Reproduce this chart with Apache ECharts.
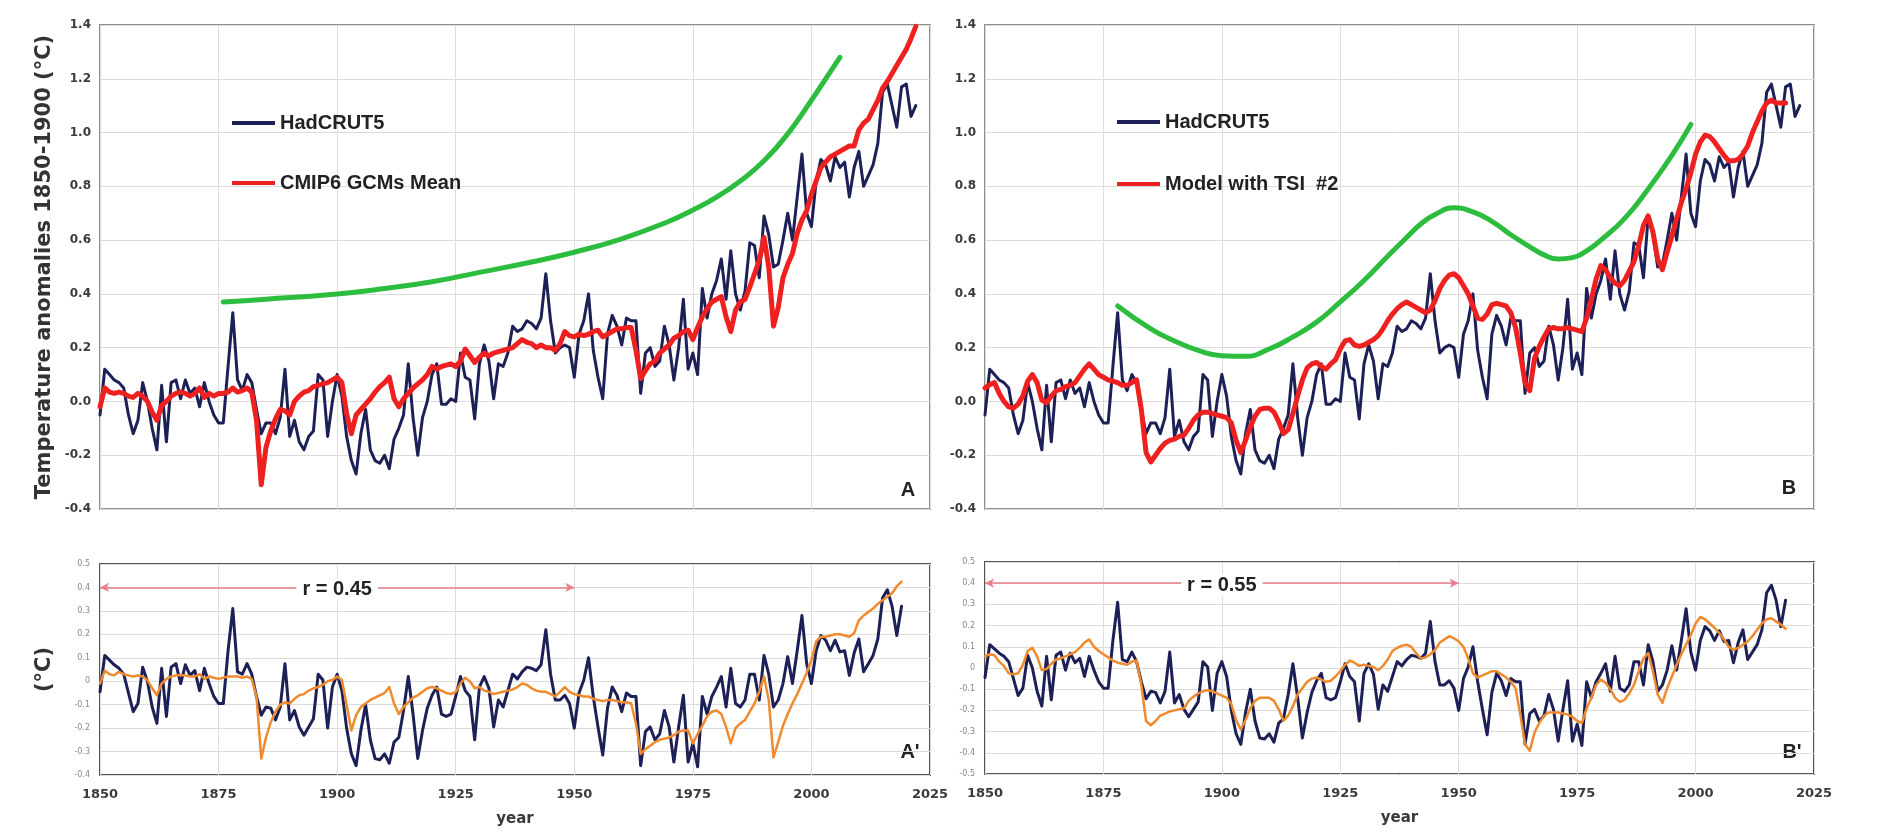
<!DOCTYPE html>
<html>
<head>
<meta charset="utf-8">
<script src="https://cdn.jsdelivr.net/npm/echarts@6/dist/echarts.min.js"></script>
<style>
  html, body { margin: 0; padding: 0; background: #fff; }
  #chart { width: 1900px; height: 840px; }
</style>
</head>
<body>
<div id="chart"></div>
<script>
// all annual series start in 1850
var startYear = 1850;

// HadCRUT5, anomalies vs 1850-1900 (1850-2022)
var hadcrut5 = [
  -0.05, 0.12, 0.10, 0.08, 0.07, 0.05, -0.05, -0.12, -0.07, 0.07,
  0.00, -0.10, -0.18, 0.06, -0.15, 0.07, 0.08, 0.01, 0.08, 0.03,
  0.05, -0.02, 0.07, 0.00, -0.05, -0.08, -0.08, 0.13, 0.33, 0.08,
  0.04, 0.10, 0.07, -0.03, -0.12, -0.08, -0.08, -0.12, -0.06, 0.12,
  -0.13, -0.07, -0.15, -0.18, -0.13, -0.11, 0.10, 0.08, -0.13, 0.00,
  0.10, 0.02, -0.13, -0.22, -0.27, -0.12, -0.03, -0.18, -0.22, -0.23,
  -0.20, -0.25, -0.14, -0.10, -0.05, 0.14, -0.06, -0.20, -0.06, 0.00,
  0.10, 0.14, -0.01, -0.01, 0.01, 0.00, 0.18, 0.09, 0.08, -0.065,
  0.14, 0.21, 0.15, 0.01, 0.14, 0.13, 0.18, 0.28, 0.26, 0.27,
  0.30, 0.29, 0.27, 0.31, 0.475, 0.30, 0.18, 0.20, 0.21, 0.20,
  0.09, 0.25, 0.30, 0.40, 0.19, 0.09, 0.01, 0.25, 0.32, 0.28,
  0.21, 0.31, 0.30, 0.30, 0.03, 0.18, 0.20, 0.13, 0.15, 0.28,
  0.21, 0.08, 0.20, 0.38, 0.12, 0.18, 0.10, 0.42, 0.31, 0.40,
  0.45, 0.53, 0.38, 0.56, 0.40, 0.34, 0.41, 0.59, 0.58, 0.46,
  0.69, 0.62, 0.50, 0.51, 0.60, 0.70, 0.60, 0.76, 0.92, 0.70,
  0.65, 0.82, 0.90, 0.88, 0.82, 0.91, 0.87, 0.89, 0.76, 0.87,
  0.93, 0.80, 0.84, 0.88, 0.96, 1.15, 1.18, 1.10, 1.02, 1.17,
  1.18, 1.06, 1.10
];

// CMIP6 GCMs mean (1850-2022)
var cmip6Mean = [
  -0.02, 0.05, 0.035, 0.03, 0.035, 0.03, 0.02, 0.015, 0.03, 0.02,
  0.00, -0.04, -0.07, -0.015, 0.00, 0.02, 0.03, 0.035, 0.03, 0.02,
  0.03, 0.05, 0.015, 0.03, 0.02, 0.03, 0.03, 0.035, 0.05, 0.035,
  0.04, 0.05, 0.035, -0.07, -0.31, -0.17, -0.11, -0.065, -0.03, -0.035,
  -0.05, 0.00, 0.02, 0.035, 0.04, 0.055, 0.06, 0.065, 0.07, 0.08,
  0.09, 0.07, -0.045, -0.12, -0.05, -0.03, -0.01, 0.01, 0.035, 0.055,
  0.07, 0.09, 0.01, -0.02, 0.01, 0.03, 0.05, 0.065, 0.08, 0.10,
  0.13, 0.12, 0.13, 0.135, 0.14, 0.13, 0.15, 0.195, 0.17, 0.145,
  0.165, 0.18, 0.17, 0.18, 0.185, 0.19, 0.195, 0.20, 0.215, 0.23,
  0.22, 0.215, 0.20, 0.21, 0.20, 0.20, 0.19, 0.215, 0.26, 0.245,
  0.24, 0.25, 0.245, 0.25, 0.26, 0.265, 0.24, 0.25, 0.26, 0.27,
  0.27, 0.275, 0.275, 0.19, 0.085, 0.115, 0.14, 0.15, 0.18, 0.195,
  0.21, 0.235, 0.245, 0.26, 0.265, 0.23, 0.275, 0.315, 0.345, 0.37,
  0.38, 0.39, 0.315, 0.26, 0.34, 0.37, 0.38, 0.425, 0.475, 0.525,
  0.61, 0.50, 0.28, 0.35, 0.46, 0.51, 0.55, 0.625, 0.675, 0.71,
  0.77, 0.82, 0.87, 0.89, 0.91, 0.92, 0.93, 0.94, 0.95, 0.95,
  1.01, 1.035, 1.05, 1.085, 1.12, 1.165, 1.19, 1.22, 1.25, 1.28,
  1.31, 1.35, 1.395
];

// Model with TSI #2 (1850-2019)
var modelTsi2 = [
  0.05, 0.0625, 0.07, 0.03, 0.00, -0.02, -0.025, -0.01, 0.02, 0.075,
  0.10, 0.07, 0.005, -0.005, 0.02, 0.04, 0.045, 0.055, 0.06, 0.07,
  0.095, 0.12, 0.14, 0.12, 0.10, 0.09, 0.08, 0.075, 0.07, 0.06,
  0.06, 0.07, 0.08, -0.03, -0.19, -0.225, -0.20, -0.175, -0.155, -0.145,
  -0.14, -0.13, -0.125, -0.10, -0.07, -0.05, -0.04, -0.04, -0.045, -0.05,
  -0.055, -0.06, -0.08, -0.145, -0.19, -0.145, -0.095, -0.055, -0.03, -0.025,
  -0.025, -0.04, -0.075, -0.12, -0.105, -0.045, 0.02, 0.08, 0.125, 0.14,
  0.145, 0.13, 0.12, 0.14, 0.155, 0.195, 0.225, 0.23, 0.21, 0.205,
  0.21, 0.22, 0.23, 0.245, 0.27, 0.30, 0.325, 0.345, 0.36, 0.37,
  0.36, 0.35, 0.34, 0.33, 0.34, 0.375, 0.42, 0.45, 0.47, 0.475,
  0.46, 0.43, 0.40, 0.355, 0.31, 0.305, 0.325, 0.36, 0.365, 0.36,
  0.355, 0.33, 0.275, 0.18, 0.07, 0.04, 0.16, 0.205, 0.24, 0.27,
  0.275, 0.27, 0.27, 0.275, 0.27, 0.265, 0.26, 0.31, 0.38, 0.455,
  0.505, 0.49, 0.46, 0.44, 0.43, 0.45, 0.485, 0.52, 0.58, 0.655,
  0.69, 0.63, 0.53, 0.49, 0.555, 0.615, 0.68, 0.74, 0.79, 0.85,
  0.92, 0.965, 0.99, 0.985, 0.965, 0.94, 0.915, 0.895, 0.895, 0.90,
  0.92, 0.95, 1.00, 1.04, 1.08, 1.11, 1.12, 1.11, 1.11, 1.11
];

// green curves, [year, value]
var trendA = [
  [1876, 0.37], [1885, 0.38], [1900, 0.40], [1910, 0.42], [1920, 0.445],
  [1930, 0.48], [1940, 0.515], [1950, 0.555], [1960, 0.605], [1970, 0.67],
  [1975, 0.712], [1980, 0.76], [1985, 0.82], [1990, 0.895], [1995, 0.995],
  [2000, 1.12], [2003, 1.20], [2006, 1.28]
];
var trendB = [
  [1878, 0.355], [1885, 0.27], [1890, 0.225], [1895, 0.19], [1900, 0.17],
  [1905, 0.168], [1910, 0.195], [1915, 0.24], [1920, 0.295], [1925, 0.37],
  [1930, 0.45], [1935, 0.54], [1939, 0.61], [1942, 0.66], [1945, 0.695],
  [1949, 0.72], [1953, 0.705], [1957, 0.67], [1961, 0.62], [1965, 0.575],
  [1968, 0.545], [1971, 0.53], [1974, 0.535], [1977, 0.56], [1980, 0.60],
  [1985, 0.68], [1990, 0.79], [1995, 0.915], [1999, 1.03]
];

// lower panels (1850-2019)
var hadcrut5Resid = [
  -0.045, 0.11, 0.09, 0.07, 0.055, 0.03, -0.05, -0.13, -0.095, 0.06,
  0.00, -0.11, -0.18, 0.055, -0.15, 0.06, 0.075, -0.01, 0.07, 0.025,
  0.045, -0.04, 0.055, -0.01, -0.065, -0.095, -0.095, 0.13, 0.31, 0.04,
  0.03, 0.075, 0.03, -0.065, -0.145, -0.11, -0.115, -0.165, -0.11, 0.075,
  -0.165, -0.125, -0.195, -0.23, -0.195, -0.16, 0.03, 0.005, -0.20, -0.025,
  0.03, -0.04, -0.20, -0.31, -0.36, -0.21, -0.10, -0.25, -0.33, -0.335,
  -0.31, -0.35, -0.26, -0.24, -0.125, 0.02, -0.14, -0.33, -0.21, -0.115,
  -0.06, -0.025, -0.14, -0.15, -0.14, -0.065, 0.02, -0.04, -0.065, -0.25,
  -0.025, 0.02, -0.03, -0.195, -0.08, -0.11, -0.04, 0.03, 0.01, 0.04,
  0.06, 0.055, 0.045, 0.07, 0.22, 0.03, -0.08, -0.08, -0.06, -0.095,
  -0.20, -0.05, 0.005, 0.10, -0.065, -0.195, -0.315, -0.115, -0.025, -0.06,
  -0.13, -0.05, -0.065, -0.065, -0.36, -0.215, -0.195, -0.25, -0.225, -0.125,
  -0.195, -0.345, -0.195, -0.06, -0.345, -0.265, -0.365, -0.065, -0.14, -0.065,
  -0.025, 0.02, -0.11, 0.055, -0.095, -0.11, -0.08, 0.03, 0.03, -0.08,
  0.11, 0.03, -0.11, -0.08, -0.01, 0.105, -0.01, 0.13, 0.28, 0.075,
  -0.01, 0.13, 0.195, 0.175, 0.13, 0.175, 0.125, 0.13, 0.025, 0.12,
  0.18, 0.04, 0.075, 0.11, 0.18, 0.355, 0.39, 0.32, 0.195, 0.32
];
var cmip6Resid = [
  -0.01, 0.045, 0.03, 0.025, 0.04, 0.03, 0.025, 0.02, 0.025, 0.02,
  0.005, -0.03, -0.06, -0.01, 0.01, 0.02, 0.025, 0.025, 0.025, 0.02,
  0.02, 0.03, 0.01, 0.02, 0.015, 0.01, 0.015, 0.02, 0.02, 0.02,
  0.015, 0.02, 0.01, -0.065, -0.33, -0.24, -0.175, -0.13, -0.10, -0.09,
  -0.095, -0.075, -0.06, -0.055, -0.04, -0.03, -0.025, -0.015, 0.00, 0.005,
  0.02, 0.005, -0.10, -0.21, -0.145, -0.11, -0.095, -0.08, -0.07, -0.06,
  -0.05, -0.025, -0.095, -0.14, -0.11, -0.09, -0.07, -0.06, -0.045, -0.03,
  -0.025, -0.03, -0.04, -0.05, -0.055, -0.045, -0.01, 0.015, 0.00, -0.03,
  -0.025, -0.04, -0.045, -0.055, -0.05, -0.045, -0.04, -0.035, -0.025, -0.01,
  -0.015, -0.03, -0.04, -0.045, -0.045, -0.055, -0.065, -0.045, -0.025, -0.045,
  -0.055, -0.06, -0.065, -0.065, -0.075, -0.08, -0.085, -0.08, -0.08, -0.085,
  -0.09, -0.09, -0.095, -0.18, -0.31, -0.29, -0.275, -0.26, -0.25, -0.245,
  -0.24, -0.23, -0.215, -0.21, -0.21, -0.265, -0.225, -0.19, -0.15, -0.13,
  -0.125, -0.14, -0.195, -0.265, -0.20, -0.18, -0.165, -0.13, -0.095, -0.045,
  0.02, -0.08, -0.325, -0.26, -0.19, -0.14, -0.095, -0.055, -0.01, 0.035,
  0.09, 0.17, 0.19, 0.19, 0.195, 0.20, 0.20, 0.195, 0.19, 0.205,
  0.26, 0.28, 0.295, 0.31, 0.33, 0.345, 0.36, 0.375, 0.405, 0.425
];
var modelResid = [
  0.055, 0.065, 0.06, 0.03, 0.01, -0.025, -0.03, -0.025, 0.015, 0.08,
  0.095, 0.055, -0.01, -0.005, 0.02, 0.04, 0.045, 0.055, 0.065, 0.075,
  0.095, 0.12, 0.135, 0.10, 0.08, 0.065, 0.05, 0.035, 0.025, 0.02,
  0.015, 0.03, 0.035, -0.08, -0.25, -0.27, -0.25, -0.225, -0.215, -0.205,
  -0.20, -0.195, -0.19, -0.155, -0.135, -0.12, -0.11, -0.105, -0.11, -0.12,
  -0.13, -0.14, -0.17, -0.245, -0.29, -0.245, -0.19, -0.155, -0.14, -0.14,
  -0.14, -0.155, -0.195, -0.25, -0.225, -0.18, -0.125, -0.095, -0.065, -0.05,
  -0.045, -0.055, -0.065, -0.06, -0.04, -0.015, 0.015, 0.035, 0.025, 0.01,
  0.015, 0.01, 0.005, -0.01, 0.01, 0.04, 0.08, 0.095, 0.105, 0.11,
  0.10, 0.07, 0.045, 0.05, 0.065, 0.085, 0.12, 0.135, 0.15, 0.14,
  0.125, 0.10, 0.045, -0.025, -0.045, -0.035, -0.025, -0.015, -0.015, -0.03,
  -0.045, -0.065, -0.095, -0.22, -0.36, -0.39, -0.305, -0.26, -0.225, -0.21,
  -0.21, -0.21, -0.215, -0.22, -0.23, -0.25, -0.26, -0.19, -0.14, -0.08,
  -0.055, -0.07, -0.10, -0.14, -0.16, -0.15, -0.12, -0.08, -0.015, 0.045,
  0.07, -0.015, -0.125, -0.165, -0.095, -0.04, 0.015, 0.065, 0.11, 0.155,
  0.21, 0.24, 0.23, 0.21, 0.19, 0.165, 0.135, 0.10, 0.085, 0.095,
  0.11, 0.125, 0.15, 0.18, 0.21, 0.23, 0.235, 0.22, 0.205, 0.185
];

// correlation annotations: [from year, to year, level, text]
var corrA = [1850, 1950, 0.4, 'r = 0.45'];
var corrB = [1850, 1950, 0.4, 'r = 0.55'];

var NAVY = '#1c2057';
var RED = '#ee2020';
var GREEN = '#2dbd3e';
var ORANGE = '#f08a2e';
var VERDANA = '"DejaVu Sans", Verdana, sans-serif';
var ARIAL = '"Liberation Sans", Arial, sans-serif';

function toPairs(values) {
  return values.map(function (v, i) { return [startYear + i, v]; });
}

function xAxisFor(grid, bottom) {
  return {
    gridIndex: grid, type: 'value', min: 1850, max: 2025, interval: 25,
    axisLine: { show: false }, axisTick: { show: false },
    axisLabel: bottom
      ? { show: true, margin: 13, fontFamily: VERDANA, fontWeight: 'bold', fontSize: 13, color: '#3a3a3a',
          formatter: function (v) { return String(v); } }
      : { show: false },
    splitLine: { show: true, lineStyle: { color: '#dcdcdc', width: 1 } },
    name: bottom ? 'year' : '', nameLocation: 'middle', nameGap: 37,
    nameTextStyle: { fontFamily: VERDANA, fontWeight: 'bold', fontSize: 15, color: '#3a3a3a' }
  };
}

function topYAxis(grid, name) {
  return {
    gridIndex: grid, type: 'value', min: -0.4, max: 1.4, interval: 0.2,
    axisLine: { show: false }, axisTick: { show: false },
    axisLabel: {
      margin: 9, fontFamily: VERDANA, fontWeight: 'bold', fontSize: 12, color: '#3a3a3a',
      formatter: function (v) { return v.toFixed(1); }
    },
    splitLine: { show: true, lineStyle: { color: '#dcdcdc', width: 1 } },
    name: name || '', nameLocation: 'middle', nameGap: 45, nameRotate: 90,
    nameTextStyle: { fontFamily: VERDANA, fontWeight: 'bold', fontSize: 21, color: '#333' }
  };
}

function lowYAxis(grid, min, name) {
  return {
    gridIndex: grid, type: 'value', min: min, max: 0.5, interval: 0.1,
    axisLine: { show: false }, axisTick: { show: false },
    axisLabel: {
      margin: 10, fontFamily: VERDANA, fontSize: 8, color: '#888',
      formatter: function (v) { return Math.abs(v) < 1e-9 ? '0' : v.toFixed(1); }
    },
    splitLine: { show: true, lineStyle: { color: '#dcdcdc', width: 1 } },
    name: name || '', nameLocation: 'middle', nameGap: 45, nameRotate: 90,
    nameTextStyle: { fontFamily: VERDANA, fontWeight: 'bold', fontSize: 21, color: '#333' }
  };
}

function line(name, grid, data, color, width, extra) {
  var s = {
    name: name, type: 'line', xAxisIndex: grid, yAxisIndex: grid,
    data: data, color: color, showSymbol: false, symbol: 'none',
    lineStyle: { color: color, width: width, cap: 'round', join: 'round' },
    silent: true
  };
  if (extra) Object.keys(extra).forEach(function (k) { s[k] = extra[k]; });
  return s;
}

function corrLine(c) {
  return {
    silent: true, symbol: ['arrow', 'arrow'], symbolSize: [7, 9],
    lineStyle: { color: '#e8808c', width: 1.5, type: 'solid' },
    label: {
      show: true, position: 'middle', formatter: c[3], offset: [0, 18],
      fontFamily: ARIAL, fontWeight: 'bold', fontSize: 20, color: '#222',
      backgroundColor: '#fff', padding: [1, 6]
    },
    data: [[{ coord: [c[0], c[2]] }, { coord: [c[1], c[2]] }]]
  };
}

var legendText = { fontFamily: ARIAL, fontWeight: 'bold', fontSize: 20, color: '#222' };

var option = {
  animation: false,
  backgroundColor: '#fff',
  grid: [
    { left: 100, top: 25, width: 830, height: 484, show: true, borderColor: '#8f8f8f', borderWidth: 2, backgroundColor: '#fff' },
    { left: 985, top: 25, width: 829, height: 484, show: true, borderColor: '#8f8f8f', borderWidth: 2, backgroundColor: '#fff' },
    { left: 100, top: 564, width: 830, height: 211, show: true, borderColor: '#555', borderWidth: 2, backgroundColor: '#fff' },
    { left: 985, top: 562, width: 829, height: 212, show: true, borderColor: '#555', borderWidth: 2, backgroundColor: '#fff' }
  ],
  xAxis: [xAxisFor(0, false), xAxisFor(1, false), xAxisFor(2, true), xAxisFor(3, true)],
  yAxis: [
    topYAxis(0, 'Temperature anomalies 1850-1900 (°C)'),
    topYAxis(1, ''),
    lowYAxis(2, -0.4, '(°C)'),
    lowYAxis(3, -0.5, '')
  ],
  legend: [
    { data: ['HadCRUT5', 'CMIP6 GCMs Mean'], left: 227, top: 108, orient: 'vertical',
      icon: 'rect', itemWidth: 43, itemHeight: 4, itemGap: 40, selectedMode: false, textStyle: legendText },
    { data: ['HadCRUT5', 'Model with TSI  #2'], left: 1112, top: 107, orient: 'vertical',
      icon: 'rect', itemWidth: 43, itemHeight: 4, itemGap: 42, selectedMode: false, textStyle: legendText }
  ],
  series: [
    line('HadCRUT5', 0, toPairs(hadcrut5), NAVY, 3),
    line('CMIP6 GCMs Mean', 0, toPairs(cmip6Mean), RED, 5),
    line('trend A', 0, trendA, GREEN, 5, { smooth: true }),
    line('HadCRUT5', 1, toPairs(hadcrut5), NAVY, 3),
    line('Model with TSI  #2', 1, toPairs(modelTsi2), RED, 5),
    line('trend B', 1, trendB, GREEN, 5, { smooth: true }),
    line('HadCRUT5 residual', 2, toPairs(hadcrut5Resid), NAVY, 3),
    line('CMIP6 residual', 2, toPairs(cmip6Resid), ORANGE, 2.5, { markLine: corrLine(corrA) }),
    line('HadCRUT5 residual', 3, toPairs(hadcrut5Resid), NAVY, 3),
    line('Model residual', 3, toPairs(modelResid), ORANGE, 2.5, { markLine: corrLine(corrB) })
  ],
  graphic: [
    { type: 'text', x: 908, y: 490, style: { text: 'A', font: 'bold 20px ' + ARIAL, fill: '#222', align: 'center', verticalAlign: 'middle' } },
    { type: 'text', x: 1789, y: 488, style: { text: 'B', font: 'bold 20px ' + ARIAL, fill: '#222', align: 'center', verticalAlign: 'middle' } },
    { type: 'text', x: 910, y: 752, style: { text: "A'", font: 'bold 20px ' + ARIAL, fill: '#222', align: 'center', verticalAlign: 'middle' } },
    { type: 'text', x: 1792, y: 752, style: { text: "B'", font: 'bold 20px ' + ARIAL, fill: '#222', align: 'center', verticalAlign: 'middle' } }
  ]
};

var chart = echarts.init(document.getElementById('chart'), null, { renderer: 'canvas' });
chart.setOption(option);
</script>
</body>
</html>
